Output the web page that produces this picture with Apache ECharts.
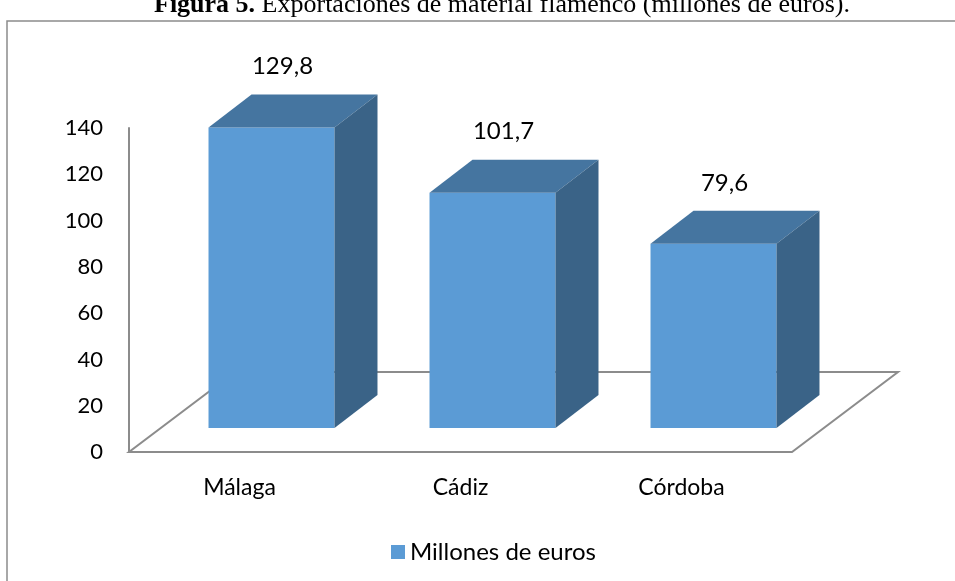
<!DOCTYPE html>
<html>
<head>
<meta charset="utf-8">
<title>Exportaciones de material flamenco</title>
<script src="https://cdn.jsdelivr.net/npm/echarts@6/dist/echarts.min.js"></script>
<style>
  html, body { margin: 0; padding: 0; background: #fff; }
  #chart { width: 955px; height: 581px; }
</style>
</head>
<body>
<div id="chart"></div>
<script>
const provincias = ['Málaga', 'Cádiz', 'Córdoba']
const millones = [129.8, 101.7, 79.6]
const yTicks = [0, 20, 40, 60, 80, 100, 120, 140]

const FRONT = '#5B9BD5'
const TOP = '#4575A0'
const SIDE = '#3A6387'
const GRAY = '#8c8c8c'
const FONT = 'Lato, "Open Sans", sans-serif'

// 3d look: floor depth and bar depth (px)
const floorDx = 106
const floorDy = 80
const barShiftX = 32
const barShiftY = 24
const depthX = 43
const depthY = 33

const chart = echarts.init(document.getElementById('chart'), null, { renderer: 'canvas' })

function renderFloor(params) {
  const cs = params.coordSys
  const yb = cs.y + cs.height
  return {
    type: 'polygon',
    silent: true,
    shape: {
      points: [
        [cs.x, yb],
        [cs.x + cs.width, yb],
        [cs.x + cs.width + floorDx, yb - floorDy],
        [cs.x + floorDx, yb - floorDy]
      ]
    },
    style: { fill: null, stroke: GRAY, lineWidth: 2 }
  }
}

function renderBar(params, api) {
  const idx = api.value(0)
  const val = api.value(1)
  const base = api.coord([idx, 0])
  const top = api.coord([idx, val])
  const w = api.size([1, 0])[0] * 0.57
  const x0 = base[0] - w / 2 + barShiftX
  const x1 = x0 + w
  const yb = base[1] - barShiftY
  const yt = top[1] - barShiftY
  return {
    type: 'group',
    children: [
      {
        type: 'polygon',
        shape: { points: [[x0, yt], [x1, yt], [x1, yb], [x0, yb]] },
        style: { fill: FRONT }
      },
      {
        type: 'polygon',
        shape: { points: [[x0, yt], [x1, yt], [x1 + depthX, yt - depthY], [x0 + depthX, yt - depthY]] },
        style: { fill: TOP }
      },
      {
        type: 'polygon',
        shape: { points: [[x1, yt], [x1 + depthX, yt - depthY], [x1 + depthX, yb - depthY], [x1, yb]] },
        style: { fill: SIDE }
      },
      {
        type: 'text',
        x: x0 + w / 2 + 11,
        y: yt - depthY - 28,
        style: {
          text: String(val).replace('.', ','),
          fill: '#000',
          font: '24px ' + FONT,
          align: 'center',
          verticalAlign: 'middle'
        }
      }
    ]
  }
}

chart.setOption({
  animation: false,
  backgroundColor: '#fff',
  graphic: [
    {
      type: 'rect',
      silent: true,
      shape: { x: 7, y: 21, width: 1000, height: 700 },
      style: { fill: null, stroke: GRAY, lineWidth: 1.5 }
    },
    {
      type: 'text',
      silent: true,
      x: 502,
      y: 18,
      style: {
        text: '{b|Figura 5.} Exportaciones de material flamenco (millones de euros).',
        rich: {
          b: { fontWeight: 'bold', fontSize: 26, fontFamily: '"Liberation Serif", serif', fill: '#000' }
        },
        fontSize: 26,
        fontFamily: '"Liberation Serif", serif',
        fill: '#000',
        align: 'center',
        verticalAlign: 'bottom'
      }
    }
  ],
  legend: {
    data: ['Millones de euros'],
    left: 386,
    top: 535,
    icon: 'rect',
    itemWidth: 14,
    itemHeight: 14,
    itemGap: 8,
    textStyle: { fontSize: 24, fontFamily: FONT, color: '#000', padding: [0, 0, 0, 0] }
  },
  grid: {
    left: 129,
    right: 163,
    top: 128,
    bottom: 129,
    containLabel: false
  },
  xAxis: {
    type: 'category',
    data: provincias,
    axisLine: { show: false },
    axisTick: { show: false },
    axisLabel: { margin: 24, fontSize: 23, fontFamily: FONT, color: '#000' },
    splitLine: { show: false }
  },
  yAxis: {
    type: 'value',
    min: yTicks[0],
    max: yTicks[yTicks.length - 1],
    interval: yTicks[1] - yTicks[0],
    axisLine: { show: true, lineStyle: { color: GRAY, width: 2 } },
    axisTick: { show: false },
    axisLabel: { margin: 26, fontSize: 22, fontFamily: FONT, color: '#000' },
    splitLine: { show: false }
  },
  series: [
    {
      name: 'suelo',
      type: 'custom',
      silent: true,
      z: 1,
      renderItem: renderFloor,
      data: [[0, 0]]
    },
    {
      name: 'Millones de euros',
      type: 'custom',
      z: 2,
      itemStyle: { color: FRONT },
      renderItem: renderBar,
      encode: { x: 0, y: 1 },
      data: millones.map((v, i) => [i, v])
    }
  ]
})
</script>
</body>
</html>
